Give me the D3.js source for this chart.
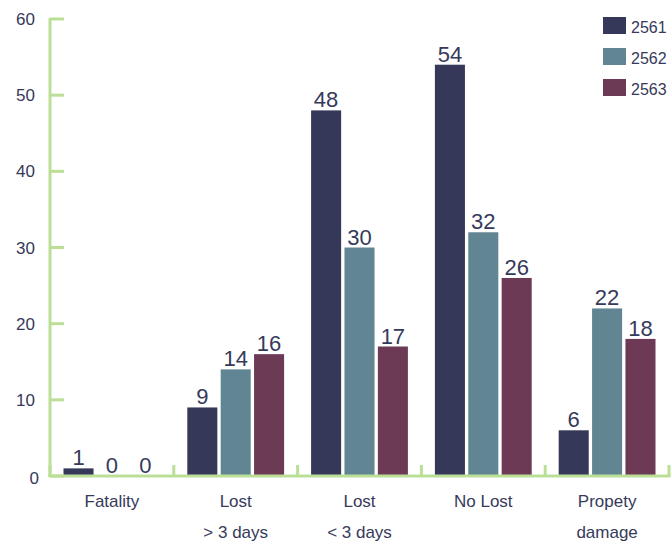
<!DOCTYPE html>
<html>
<head>
<meta charset="utf-8">
<script src="https://cdn.jsdelivr.net/npm/d3@7"></script>
<style>
  body { margin: 0; background: #fff; }
  text { font-family: "Liberation Sans", Arial, sans-serif; fill: #363a5a; }
</style>
</head>
<body>
<div id="chart"></div>
<script>
// data
const categories = [["Fatality"], ["Lost", "> 3 days"], ["Lost", "< 3 days"], ["No Lost"], ["Propety", "damage"]];
const years = ["2561", "2562", "2563"];
const v2561 = [1, 9, 48, 54, 6];
const v2562 = [0, 14, 30, 32, 22];
const v2563 = [0, 16, 17, 26, 18];
const yTicks = [0, 10, 20, 30, 40, 50, 60];

const series = [v2561, v2562, v2563];
const colors = ["#353858", "#628593", "#6c3a55"];
const axisColor = "#bcdf98";

const width = 672, height = 543;
const margin = { left: 50, right: 3, top: 19, bottom: 67 };

const svg = d3.select("#chart").append("svg")
  .attr("width", width)
  .attr("height", height);

const x = d3.scaleBand()
  .domain(d3.range(categories.length))
  .range([margin.left, width - margin.right]);

const xSub = d3.scaleBand()
  .domain(d3.range(years.length))
  .range([13.5, x.bandwidth() - 13.5])
  .paddingInner(0.1);

const y = d3.scaleLinear()
  .domain([0, 60])
  .range([height - margin.bottom, margin.top]);

// bars
const groups = svg.append("g")
  .selectAll("g")
  .data(categories)
  .join("g")
  .attr("transform", (d, i) => `translate(${x(i)},0)`);

groups.each(function(c, ci) {
  const g = d3.select(this);
  series.forEach((s, si) => {
    g.append("rect")
      .attr("x", xSub(si))
      .attr("width", xSub.bandwidth())
      .attr("y", y(s[ci]))
      .attr("height", y(0) - y(s[ci]))
      .attr("fill", colors[si]);
    g.append("text")
      .attr("x", xSub(si) + xSub.bandwidth() / 2)
      .attr("y", y(s[ci]) - 3)
      .attr("text-anchor", "middle")
      .style("font-size", "22px")
      .text(s[ci]);
  });
});

// y axis
const yAxis = svg.append("g");
yAxis.append("line")
  .attr("x1", margin.left).attr("x2", margin.left)
  .attr("y1", y(60) - 1).attr("y2", y(0) + 1)
  .attr("stroke", axisColor).attr("stroke-width", 3);
yAxis.selectAll(".tick")
  .data(yTicks)
  .join("line")
  .attr("x1", margin.left).attr("x2", margin.left + 14)
  .attr("y1", d => y(d)).attr("y2", d => y(d))
  .attr("stroke", axisColor).attr("stroke-width", 3);
yAxis.selectAll("text")
  .data(yTicks)
  .join("text")
  .attr("x", d => d === 0 ? 39 : 35)
  .attr("y", d => y(d) + (d === 0 ? 8 : 6))
  .attr("text-anchor", "end")
  .style("font-size", "17px")
  .text(d => d);

// x axis
const xAxis = svg.append("g");
xAxis.append("line")
  .attr("x1", margin.left - 1.5).attr("x2", width - margin.right + 1.5)
  .attr("y1", y(0)).attr("y2", y(0))
  .attr("stroke", axisColor).attr("stroke-width", 3);
xAxis.selectAll("line.tick")
  .data(d3.range(categories.length + 1))
  .join("line")
  .attr("class", "tick")
  .attr("x1", i => i < categories.length ? x(i) : x(i - 1) + x.bandwidth())
  .attr("x2", i => i < categories.length ? x(i) : x(i - 1) + x.bandwidth())
  .attr("y1", y(0)).attr("y2", y(0) - 11)
  .attr("stroke", axisColor).attr("stroke-width", 3);

const labels = xAxis.selectAll("text")
  .data(categories)
  .join("text")
  .attr("text-anchor", "middle")
  .style("font-size", "17px");
labels.each(function(lines, i) {
  lines.forEach((t, li) => {
    d3.select(this).append("tspan")
      .attr("x", x(i) + x.bandwidth() / 2)
      .attr("y", 507 + li * 31)
      .text(t);
  });
});

// legend
const legend = svg.append("g")
  .selectAll("g")
  .data(years)
  .join("g")
  .attr("transform", (d, i) => `translate(603,${17 + i * 31})`);
legend.append("rect")
  .attr("width", 23).attr("height", 17)
  .attr("fill", (d, i) => colors[i]);
legend.append("text")
  .attr("x", 28).attr("y", 16)
  .style("font-size", "16px")
  .text(d => d);
</script>
</body>
</html>
